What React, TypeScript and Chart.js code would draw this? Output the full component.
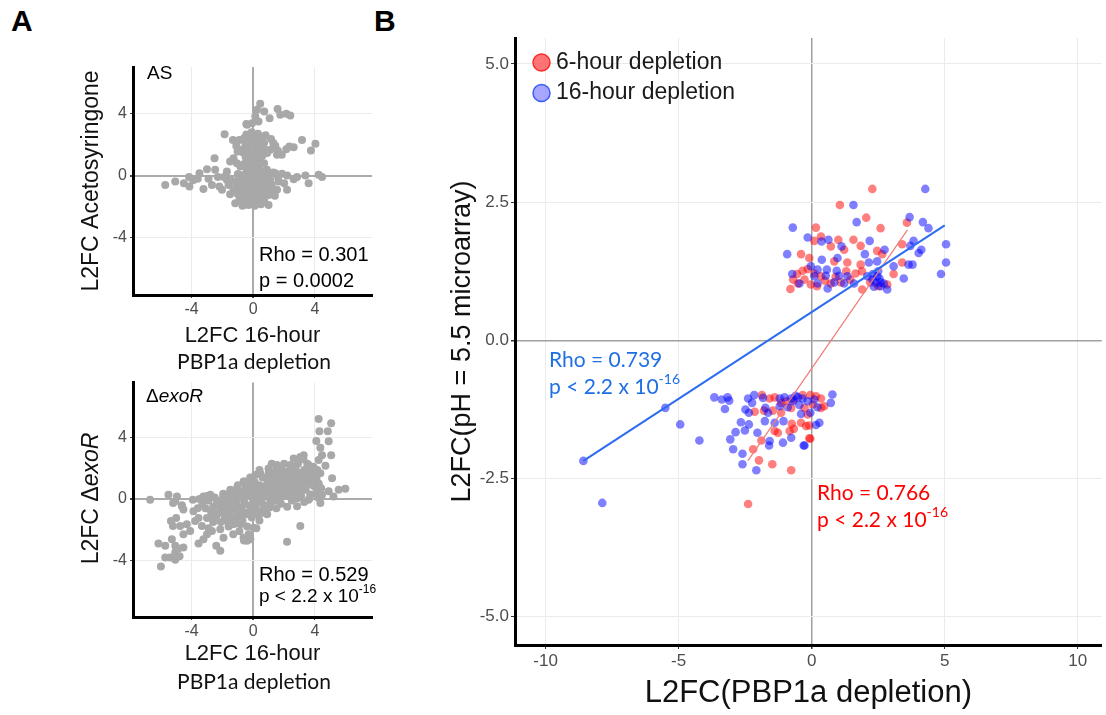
import React, { useEffect, useRef } from 'react';
import { Chart, registerables } from 'chart.js';

Chart.register(...registerables);

const FONT = "Arial, 'Liberation Sans', Helvetica, sans-serif";
const CAL = "Lato, 'Open Sans', sans-serif";

// ---------- tick values ----------
const aTicks = [-4, 0, 4];
const bXTicks = [-10, -5, 0, 5, 10];
const bYTicks = [-5, -2.5, 0, 2.5, 5];

// ---------- Panel A (top): Acetosyringone vs 16-hour PBP1a depletion ----------
const asPoints: [number, number][] = [
  [0.45, 4.63], [0.24, 4.24], [0.13, 3.81], [0.71, 4.13], [1.58, 4.3], [1.75, 3.92], [2.14, 3.98], [2.4, 3.87],
  [1.06, 3.7], [-0.08, 3.38], [-0.45, 3.32], [0.34, 3.48], [-0.4, 3.27], [-1.86, 2.67], [-1.32, 2.3], [-0.3, 2.3],
  [0.02, 2.63], [0.45, 2.52], [1.15, 2.35], [3.16, 2.3], [4.03, 2.05], [3.74, 1.61], [2.62, 1.83], [2.14, 1.7],
  [2.34, 1.87], [1.43, 1.92], [-0.37, 2.09], [-0.84, 1.66], [-1.02, 1.55], [-0.52, 1.77], [0.24, 1.87], [0.67, 1.77],
  [1.1, 1.66], [1.54, 1.34], [-0.3, 1.34], [0.02, 1.23], [0.45, 1.01], [-2.51, 1.12], [-1.28, 1.12], [-1.06, 0.8],
  [-0.84, 0.58], [-3.0, 0.41], [-2.47, 0.37], [-3.49, 0.15], [-1.71, 0.26], [-0.41, 0.37], [0.24, 0.26], [0.89, 0.37],
  [1.43, 0.15], [1.86, 0.11], [-4.16, -0.1], [-5.71, -0.6], [-5.06, -0.39], [-4.14, -0.71], [-3.23, -0.86], [-2.68, -0.6],
  [-2.03, -0.92], [-1.71, -0.28], [-0.95, -0.17], [-0.63, -0.49], [-0.19, -0.17], [0.24, -0.28], [0.67, -0.06], [1.1, -0.28],
  [1.64, -0.39], [2.19, -0.92], [2.62, -0.23], [3.38, 0.0], [3.59, -0.49], [4.24, 0.05], [4.46, -0.1], [2.84, -0.1],
  [1.54, -0.92], [-1.28, -0.92], [-1.17, -1.78], [-0.63, -1.89], [0.02, -1.57], [0.45, -1.35], [-0.41, -1.35], [-0.84, -1.14],
  [-0.19, -0.92], [0.24, -0.81], [0.99, -1.89], [0.89, -0.92], [-0.41, -0.71],
  [-0.6, 2.4], [-0.2, 2.5], [0.2, 2.4], [0.6, 2.3], [-0.5, 2.0], [-0.1, 2.1], [0.3, 2.0], [0.7, 2.1], [-0.7, 1.5],
  [-0.3, 1.6], [0.1, 1.5], [0.5, 1.55], [0.9, 1.45], [-0.2, 1.1], [0.2, 1.2], [-0.5, 1.2], [0.6, 1.3], [0.3, 2.7],
  [-0.1, 2.8], [0.8, 2.6], [1.3, 2.1], [1.6, 1.6], [-1.1, 1.9], [-0.9, 2.3], [0.0, 0.8], [-0.3, 0.7], [0.3, 0.6],
  [0.15, 0.95], [-1.2, -0.4], [-0.8, -0.5], [-0.4, -0.3], [0.0, -0.4], [0.4, -0.45], [0.8, -0.5], [1.2, -0.6],
  [-1.0, 0.1], [-0.6, 0.05], [-0.2, 0.1], [0.2, 0.0], [0.6, 0.15], [1.0, 0.05], [1.3, 0.2], [-0.4, 0.45], [0.0, 0.45],
  [0.4, 0.5], [-1.1, -0.8], [-0.7, -0.85], [-0.3, -0.9], [0.1, -0.8], [0.5, -0.85], [1.2, -0.9], [-1.0, -1.2],
  [-0.6, -1.25], [-0.2, -1.2], [0.2, -1.15], [0.6, -1.2], [1.0, -1.25], [-0.9, -1.6], [-0.5, -1.65], [-0.1, -1.6],
  [0.3, -1.65], [0.7, -1.55], [-0.7, -1.95], [-0.3, -1.9], [0.1, -1.95], [0.5, -1.85], [-1.5, -0.2], [-1.6, -0.6],
  [1.6, -0.1], [2.0, -0.5], [-1.5, -1.2], [1.4, -1.3], [-1.9, -0.1], [2.2, 0.0], [-3.9, -0.3], [-4.5, -0.5],
  [-3.6, -0.2], [-2.3, -0.1], [-2.9, -0.2], [-2.2, -0.7],
  [-0.45, 2.65], [0.05, 2.35], [0.45, 2.15], [-0.35, 1.9], [0.15, 1.75], [0.55, 1.85], [-0.15, 1.4], [0.35, 1.35],
  [-0.55, 1.45], [0.75, 1.6], [-0.1, 0.6], [0.1, 0.3], [-0.25, -0.6], [0.35, -0.6], [-0.45, -1.05], [0.45, -1.05],
  [-0.05, -1.4], [0.2, -0.2], [-0.85, -0.25], [0.95, -0.15], [-0.6, 0.75], [0.7, 0.8], [1.85, 1.35], [-1.5, 0.9],
];

// ---------- Panel A (bottom): exoR vs 16-hour PBP1a depletion ----------
const exoRPoints: [number, number][] = [
  [-6.69, -0.04], [-5.5, 0.28], [-4.95, 0.17], [-5.06, -0.15], [-4.63, -0.47], [-4.53, -0.68], [-3.92, -0.04], [-3.88, -0.79],
  [-5.0, -1.23], [-5.34, -1.44], [-5.21, -1.76], [-4.74, -1.76], [-4.31, -1.65], [-3.77, -1.44], [-3.55, -1.23], [-3.33, -1.76],
  [-4.09, -2.08], [-4.53, -2.3], [-5.28, -2.62], [-6.15, -2.9], [-5.71, -3.05], [-5.06, -3.05], [-4.85, -3.23], [-4.53, -3.16],
  [-5.06, -3.48], [-5.71, -3.81], [-5.39, -3.81], [-5.06, -3.97], [-4.78, -3.74], [-5.99, -4.41], [-3.55, -2.9], [-3.23, -2.62],
  [-3.0, -2.3], [-2.68, -2.08], [-2.14, -3.37], [-2.4, -3.05], [-3.0, -1.23], [-2.68, -0.79], [-2.25, -0.15], [-3.23, 0.17],
  [-2.79, 0.28], [-1.93, 0.28], [-1.49, 0.61], [-1.06, 0.71], [-0.63, 1.14], [-1.93, -0.79], [-1.71, -1.44], [-1.28, -1.65],
  [-0.84, -1.65], [-2.14, -1.97], [-1.93, -2.52], [-0.63, -2.52], [-0.41, -2.73], [-5.2, -0.26], [-4.63, -0.41],
  [4.24, 5.23], [5.05, 4.95], [4.29, 4.43], [4.83, 4.43], [4.09, 3.79], [4.35, 3.34], [4.89, 3.77], [5.05, 2.86],
  [4.46, 2.86], [3.27, 2.86], [3.05, 2.75], [2.62, 2.65], [4.24, 2.54], [3.59, 2.22], [4.68, 2.17], [4.35, 1.68],
  [5.11, 1.35], [5.54, 0.61], [5.97, 0.67], [4.89, 0.5], [4.46, 0.28], [4.35, -0.26], [3.59, -0.04], [3.05, -1.76],
  [2.19, -2.79], [2.84, -0.47], [2.4, 2.22], [1.54, 2.22], [0.99, 2.0], [0.45, 1.68], [0.13, 1.57], [-0.52, 1.14],
  [-0.63, 0.5], [0.45, -0.79], [0.02, -1.87], [-0.19, -2.62], [5.2, 0.17],
  [-3.1, -0.6], [-2.9, -0.1], [-2.6, -0.5], [-2.5, 0.1], [-2.4, -1.1], [-2.2, -0.4], [-2.1, -1.5], [-2.0, 0.0],
  [-1.9, -1.0], [-1.8, -0.5], [-1.7, 0.3], [-1.6, -1.8], [-1.5, -0.2], [-1.4, -1.2], [-1.3, -0.7], [-1.2, 0.2],
  [-1.1, -0.3], [-1.0, -1.0], [-0.9, -2.1], [-0.9, 0.4], [-0.8, -0.6], [-0.7, -1.4], [-0.6, -0.1], [-0.5, 0.8],
  [-0.5, -0.9], [-0.4, -1.8], [-0.3, 0.3], [-0.2, -0.4], [-0.1, -1.2], [0.0, 0.6], [0.0, -0.1], [0.1, 1.1],
  [0.2, -0.7], [0.3, 0.3], [0.4, -1.4], [0.4, 0.9], [0.5, -0.2], [0.6, 1.4], [0.7, 0.4], [0.8, -0.6], [0.9, 1.0],
  [1.0, 0.1], [1.0, 1.7], [1.1, -0.3], [1.2, 0.6], [1.3, 1.3], [1.4, -0.1], [1.5, 2.0], [1.5, 0.9], [1.6, 0.3],
  [1.7, 1.5], [1.8, -0.3], [1.9, 0.8], [2.0, 2.3], [2.0, 1.2], [2.1, 0.2], [2.2, 1.8], [2.3, 0.6], [2.4, 1.4],
  [2.5, -0.1], [2.5, 2.0], [2.6, 1.0], [2.7, 0.4], [2.8, 1.7], [2.9, 2.3], [3.0, 0.9], [3.1, 0.2], [3.2, 1.4],
  [3.3, 1.9], [3.4, 0.6], [3.5, 2.3], [3.6, 1.1], [3.7, 0.3], [3.8, 1.7], [3.9, 2.1], [4.0, 0.8], [4.1, 1.3],
  [4.2, 0.1], [3.3, -0.2], [2.2, -0.5], [-0.3, -2.3], [0.2, -1.9], [-1.3, -2.3], [-1.6, -1.0], [-2.6, -1.5],
  [-2.9, -1.9], [-3.3, -0.3], [-3.5, 0.0], [-3.0, 0.2], [-1.0, 0.9], [-0.2, 1.4], [0.4, 1.9], [1.2, 2.3],
  [0.9, -1.0], [1.5, -0.6], [-0.6, -2.7],
  [-2.75, -0.8], [-2.35, -0.2], [-2.25, -0.9], [-1.95, 0.35], [-1.85, -1.3], [-1.55, -0.6], [-1.45, 0.5], [-1.25, -1.6],
  [-1.15, -0.1], [-0.95, -0.5], [-0.85, -1.25], [-0.75, 0.1], [-0.55, -0.35], [-0.45, 0.3], [-0.35, -1.0], [-0.25, 0.95],
  [-0.15, -0.6], [0.05, 0.25], [0.15, -0.35], [0.25, 0.75], [0.35, -1.05], [0.55, 0.1], [0.65, -0.35], [0.75, 0.8],
  [0.85, 1.4], [0.95, 0.45], [1.05, -0.55], [1.15, 1.0], [1.25, 0.25], [1.35, 1.7], [1.45, 0.6], [1.65, 1.15],
  [1.75, 0.05], [1.85, 1.9], [1.95, 0.5], [2.15, 1.5], [2.25, 0.95], [2.35, 0.2], [2.45, 1.75], [2.55, 0.7],
  [2.65, 1.3], [2.75, 2.1], [2.85, 0.05], [2.95, 1.2], [3.05, 1.7], [3.15, 0.55], [3.25, 2.6], [3.45, 1.0],
  [3.55, 1.6], [3.65, 0.05], [3.75, 2.05], [3.85, 0.9], [3.95, 1.5], [4.05, 0.35], [4.15, 1.9], [4.25, 1.0],
  [-2.55, -1.2], [-2.05, -0.7], [-1.75, -0.15], [-1.35, 0.15], [-1.05, -0.75], [-0.65, -1.05], [-0.35, 0.6], [0.1, -0.95],
  [0.45, 0.55], [0.8, 0.2], [1.1, 0.75], [1.55, 0.1], [1.9, 1.1], [2.3, 1.25], [2.6, 1.6], [3.0, 0.55], [3.35, 1.25],
  [3.7, 1.4], [4.4, 0.7], [-3.6, -0.6], [-1.2, -1.3], [-0.1, 0.95], [0.6, -0.9], [1.7, 0.7], [2.8, 0.8],
];

// ---------- Panel B: pH 5.5 microarray vs PBP1a depletion ----------
const sixHourPoints: [number, number][] = [
  [2.28, 2.74], [1.06, 2.45], [2.05, 2.22], [3.58, 2.13], [0.16, 2.04], [2.59, 2.03], [0.35, 1.88], [0.1, 1.8],
  [1.0, 1.82], [0.72, 1.7], [1.57, 1.82], [1.84, 1.71], [1.22, 1.64], [-0.4, 1.56], [-0.09, 1.49], [2.46, 1.62],
  [2.65, 1.56], [3.4, 1.74], [3.4, 1.41], [1.34, 1.41], [1.84, 1.37], [0.85, 1.43], [-0.34, 1.26], [-0.55, 1.2],
  [-0.15, 1.29], [0.1, 1.21], [0.35, 1.16], [1.65, 1.21], [1.89, 1.25], [3.08, 1.2], [-0.8, 0.93], [-0.03, 1.01],
  [0.72, 1.03], [2.84, 1.01], [1.9, 0.92], [-0.52, 1.03], [-0.27, 1.1], [0.5, 1.08], [0.9, 1.15], [1.1, 1.05],
  [1.45, 1.1], [2.2, 1.05], [2.5, 0.98], [0.2, 0.98], [1.3, 1.25], [-0.7, 1.1],
  [-1.87, -0.99], [-1.58, -1.05], [-1.39, -1.03], [-2.14, -1.29], [-1.79, -1.27], [-1.46, -1.27], [-1.15, -1.31],
  [-1.39, -1.64], [-1.27, -1.67], [-0.75, -1.51], [-0.83, -1.64], [-0.67, -1.6], [-0.09, -1.54], [-0.4, -1.49],
  [-1.89, -1.81], [-2.2, -1.97], [-1.98, -2.17], [-1.48, -2.24], [-0.77, -2.35], [-0.05, -1.78], [-0.67, -1.07],
  [-0.34, -0.99], [-0.05, -0.99], [0.16, -1.01], [0.35, -1.05], [0.04, -1.16], [-0.27, -1.22], [-0.96, -1.1],
  [0.35, -1.22], [-0.15, -1.34], [-1.15, -1.13], [-0.77, -1.22], [0.47, -1.19], [-0.09, -1.77], [-0.21, -1.55],
  [-2.39, -2.96],
];

const sixteenHourPoints: [number, number][] = [
  [4.27, 2.74], [1.57, 2.45], [1.69, 2.14], [3.68, 2.23], [4.18, 2.14], [4.39, 2.03], [-0.71, 2.04], [-0.15, 1.86],
  [0.63, 1.82], [0.37, 1.79], [2.18, 1.8], [1.12, 1.7], [-0.92, 1.56], [0.38, 1.46], [0.97, 1.49], [2.0, 1.56],
  [2.74, 1.64], [3.83, 1.8], [3.71, 1.71], [4.02, 1.58], [4.12, 1.64], [5.05, 1.74], [5.05, 1.41], [4.86, 1.2],
  [3.79, 1.37], [3.64, 1.37], [3.08, 1.34], [3.46, 1.12], [-0.03, 1.34], [0.22, 1.28], [0.57, 1.28], [0.94, 1.26],
  [2.15, 1.41], [2.46, 1.43], [-0.73, 1.2], [-0.46, 1.03], [0.1, 1.16], [0.53, 1.17], [1.03, 1.17], [1.34, 1.16],
  [1.59, 1.03], [2.09, 1.16], [2.28, 1.1], [2.46, 1.16], [2.59, 1.05], [2.71, 1.03], [2.34, 0.97], [0.85, 1.05],
  [1.22, 1.03], [0.6, 0.94], [0.22, 1.03], [2.84, 0.92], [2.4, 1.05], [2.55, 1.12], [2.3, 1.2], [2.6, 0.98], [2.5, 1.25],
  [-5.5, -1.22], [-4.94, -1.52], [-4.22, -1.81], [-3.66, -1.03], [-3.38, -1.07], [-3.16, -1.03], [-3.1, -1.09],
  [-3.26, -1.24], [-2.39, -1.05], [-2.16, -0.99], [-2.24, -1.13], [-2.49, -1.25], [-2.36, -1.31], [-1.83, -1.04],
  [-2.66, -1.48], [-2.36, -1.52], [-2.86, -1.66], [-2.51, -1.63], [-2.04, -1.67], [-3.06, -1.79], [-2.95, -1.97],
  [-2.6, -2.05], [-2.6, -2.24], [-2.08, -2.35], [-1.76, -1.46], [-1.58, -1.82], [-1.6, -1.9], [-1.08, -1.85],
  [-0.77, -1.76], [-0.3, -1.9], [-1.2, -1.05], [-1.02, -1.03], [-0.77, -1.05], [-0.52, -1.03], [-0.34, -1.05],
  [-0.15, -1.1], [-1.2, -1.19], [-0.9, -1.21], [-0.46, -1.17], [-0.05, -1.31], [-0.4, -1.33], [0.29, -1.49],
  [0.16, -1.53], [-1.06, -1.46], [-1.39, -1.49], [-1.74, -1.22], [-1.64, -1.31], [0.22, -1.21], [0.1, -1.07],
  [0.78, -0.98], [0.72, -1.13], [-0.27, -1.9], [-8.58, -2.18], [-7.87, -2.94], [-0.6, -1.0], [-0.7, -1.1],
];

const sixHourFit: [number, number][] = [[-2.4, -2.18], [3.6, 2.0]];
const sixteenHourFit: [number, number][] = [[-8.58, -2.18], [5.0, 2.08]];

// ---------- helpers ----------
type Seg = { t: string; font: string; color?: string; dy?: number };
type TextItem = { x: number; y: number; segs: Seg[]; align?: 'left' | 'center'; rot?: number };

function drawRich(ctx: CanvasRenderingContext2D, item: TextItem) {
  ctx.save();
  ctx.translate(item.x, item.y);
  if (item.rot) ctx.rotate(item.rot);
  ctx.textBaseline = 'middle';
  ctx.textAlign = 'left';
  let total = 0;
  const widths = item.segs.map((s) => {
    ctx.font = s.font;
    const w = ctx.measureText(s.t).width;
    total += w;
    return w;
  });
  let cx = item.align === 'center' ? -total / 2 : 0;
  item.segs.forEach((s, i) => {
    ctx.font = s.font;
    ctx.fillStyle = s.color || '#000';
    ctx.fillText(s.t, cx, s.dy || 0);
    cx += widths[i];
  });
  ctx.restore();
}

const textPlugin = (items: TextItem[]) => ({
  id: 'richText',
  afterDraw(chart: any) {
    const ctx = chart.ctx as CanvasRenderingContext2D;
    items.forEach((it) => drawRich(ctx, it));
  },
});

const toXY = (pts: [number, number][]) => pts.map(([x, y]) => ({ x, y }));
const isZero = (c: any) => c.tick && c.tick.value === 0;

function panelA(points: [number, number][], yMax: number, padTop: number, xHeight: number, xTitlePad: number,
  yTitle: string | null, texts: TextItem[]) {
  return {
    type: 'scatter',
    data: {
      datasets: [{
        label: 'genes',
        data: toXY(points),
        backgroundColor: '#a8a8a8',
        borderWidth: 0,
        pointRadius: 4,
        pointHoverRadius: 4,
      }],
    },
    options: {
      responsive: false,
      animation: false,
      events: [],
      layout: { padding: { top: padTop, right: 8, left: 0, bottom: 0 } },
      plugins: { legend: { display: false }, tooltip: { enabled: false } },
      scales: {
        x: {
          type: 'linear', min: -7.8, max: 7.7,
          afterBuildTicks: (s: any) => { s.ticks = aTicks.map((v) => ({ value: v })); },
          afterFit: (s: any) => { s.height = xHeight; },
          grid: {
            color: (c: any) => (isZero(c) ? '#ababab' : '#ebebeb'),
            lineWidth: (c: any) => (isZero(c) ? 2 : 1),
            tickLength: 3, tickColor: '#444',
          },
          border: { display: true, color: '#000', width: 3 },
          ticks: { color: '#4d4d4d', font: { family: FONT, size: 16 }, padding: 2, autoSkip: false, maxRotation: 0,
            callback: (v: any) => String(v) },
          title: { display: true, text: 'L2FC 16-hour', color: '#111', font: { family: FONT, size: 22 },
            padding: { top: 0, bottom: xTitlePad } },
        },
        y: {
          type: 'linear', min: -7.7, max: yMax,
          afterBuildTicks: (s: any) => { s.ticks = aTicks.map((v) => ({ value: v })); },
          afterFit: (s: any) => { s.width = 133; },
          grid: {
            color: (c: any) => (isZero(c) ? '#ababab' : '#ebebeb'),
            lineWidth: (c: any) => (isZero(c) ? 2 : 1),
            tickLength: 3, tickColor: '#444',
          },
          border: { display: true, color: '#000', width: 3 },
          ticks: { color: '#4d4d4d', font: { family: FONT, size: 16 }, padding: 3, autoSkip: false,
            callback: (v: any) => String(v) },
          title: { display: !!yTitle, text: yTitle || '', color: '#111', font: { family: FONT, size: 23 },
            padding: { top: 78, bottom: 0 } },
        },
      },
    },
    plugins: [textPlugin(texts)],
  };
}

const A1_TEXTS: TextItem[] = [
  { x: 147, y: 24, segs: [{ t: 'AS', font: `19px ${FONT}` }] },
  { x: 259, y: 205, segs: [{ t: 'Rho = 0.301', font: `20px ${FONT}` }] },
  { x: 259, y: 231, segs: [{ t: 'p = 0.0002', font: `20px ${FONT}` }] },
  { x: 254, y: 312, align: 'center', segs: [{ t: 'PBP1a depletion', font: `21px ${CAL}`, color: '#111' }] },
];

const A2_TEXTS: TextItem[] = [
  { x: 146, y: 27, segs: [{ t: 'Δ', font: `19px ${FONT}` }, { t: 'exoR', font: `italic 19px ${FONT}` }] },
  { x: 259, y: 205, segs: [{ t: 'Rho = 0.529', font: `20px ${FONT}` }] },
  { x: 259, y: 227, segs: [{ t: 'p < 2.2 x 10', font: `19px ${FONT}` }, { t: '-16', font: `12px ${FONT}`, dy: -7 }] },
  { x: 254, y: 312, align: 'center', segs: [{ t: 'PBP1a depletion', font: `21px ${CAL}`, color: '#111' }] },
  { x: 92, y: 128.5, align: 'center', rot: -Math.PI / 2,
    segs: [{ t: 'L2FC Δ', font: `23px ${FONT}`, color: '#111' }, { t: 'exoR', font: `italic 23px ${FONT}`, color: '#111' }] },
];

const RED_FILL = 'rgba(255, 0, 0, 0.5)';
const BLUE_FILL = 'rgba(0, 0, 255, 0.5)';

const B_TEXTS: TextItem[] = [
  { x: 169, y: 360, segs: [{ t: 'Rho = 0.739', font: `21px ${CAL}`, color: '#1f6fe5' }] },
  { x: 169, y: 387, segs: [{ t: 'p < 2.2 x 10', font: `21px ${CAL}`, color: '#1f6fe5' },
    { t: '-16', font: `14px ${CAL}`, color: '#1f6fe5', dy: -8 }] },
  { x: 437, y: 493, segs: [{ t: 'Rho = 0.766', font: `21px ${CAL}`, color: '#ff0000' }] },
  { x: 437, y: 520, segs: [{ t: 'p < 2.2 x 10', font: `21px ${CAL}`, color: '#ff0000' },
    { t: '-16', font: `14px ${CAL}`, color: '#ff0000', dy: -8 }] },
];

const bLegendPlugin = {
  id: 'bLegend',
  afterDraw(chart: any) {
    const ctx = chart.ctx as CanvasRenderingContext2D;
    const items = [
      { ds: chart.data.datasets[3], fill: 'rgba(255, 70, 70, 0.75)', stroke: '#ff2a2a', y: 62.5 },
      { ds: chart.data.datasets[2], fill: 'rgba(120, 120, 255, 0.65)', stroke: '#3a5cff', y: 93 },
    ];
    items.forEach((it) => {
      ctx.save();
      ctx.beginPath();
      ctx.arc(161.5, it.y, 8.5, 0, Math.PI * 2);
      ctx.fillStyle = it.fill;
      ctx.fill();
      ctx.lineWidth = 1.5;
      ctx.strokeStyle = it.stroke;
      ctx.stroke();
      ctx.font = `23px ${FONT}`;
      ctx.fillStyle = '#1a1a1a';
      ctx.textBaseline = 'middle';
      ctx.fillText(it.ds.label, 176, it.y);
      ctx.restore();
    });
  },
};

function panelB() {
  return {
    type: 'scatter',
    data: {
      datasets: [
        { label: '16-hour fit', data: toXY(sixteenHourFit), showLine: true, borderColor: '#2b6cf0', borderWidth: 2,
          pointRadius: 0, fill: false },
        { label: '6-hour fit', data: toXY(sixHourFit), showLine: true, borderColor: '#f07a7a', borderWidth: 1.2,
          pointRadius: 0, fill: false },
        { label: '16-hour depletion', data: toXY(sixteenHourPoints), backgroundColor: BLUE_FILL, borderWidth: 0,
          pointRadius: 4.3, pointHoverRadius: 4.3 },
        { label: '6-hour depletion', data: toXY(sixHourPoints), backgroundColor: RED_FILL, borderWidth: 0,
          pointRadius: 4.3, pointHoverRadius: 4.3 },
      ],
    },
    options: {
      responsive: false,
      animation: false,
      events: [],
      layout: { padding: { top: 38, right: 0, left: 0, bottom: 0 } },
      plugins: { legend: { display: false }, tooltip: { enabled: false } },
      scales: {
        x: {
          type: 'linear', min: -11.15, max: 10.9,
          afterBuildTicks: (s: any) => { s.ticks = bXTicks.map((v) => ({ value: v })); },
          afterFit: (s: any) => { s.height = 70; },
          grid: {
            color: (c: any) => (isZero(c) ? '#a0a0a0' : '#ebebeb'),
            lineWidth: (c: any) => (isZero(c) ? 1.5 : 1),
            tickLength: 4, tickColor: '#333',
          },
          border: { display: true, color: '#000', width: 3 },
          ticks: { color: '#4d4d4d', font: { family: FONT, size: 17 }, padding: 2, autoSkip: false, maxRotation: 0,
            callback: (v: any) => String(v) },
          title: { display: true, text: 'L2FC(PBP1a depletion)', color: '#111', font: { family: FONT, size: 31 },
            padding: { top: 0, bottom: 3 } },
        },
        y: {
          type: 'linear', min: -5.51, max: 5.47,
          afterBuildTicks: (s: any) => { s.ticks = bYTicks.map((v) => ({ value: v })); },
          afterFit: (s: any) => { s.width = 135; },
          grid: {
            color: (c: any) => (isZero(c) ? '#a0a0a0' : '#ebebeb'),
            lineWidth: (c: any) => (isZero(c) ? 1.5 : 1),
            tickLength: 4, tickColor: '#333',
          },
          border: { display: true, color: '#000', width: 3 },
          ticks: { color: '#4d4d4d', font: { family: FONT, size: 17 }, padding: 2, autoSkip: false,
            callback: (v: any) => Number(v).toFixed(1) },
          title: { display: true, text: 'L2FC(pH = 5.5 microarray)', color: '#111', font: { family: FONT, size: 27 },
            padding: { top: 66, bottom: 0 } },
        },
      },
    },
    plugins: [textPlugin(B_TEXTS), bLegendPlugin],
  };
}

function ChartCanvas(props: { left: number; top: number; width: number; height: number; make: () => any }) {
  const ref = useRef<HTMLCanvasElement>(null);
  useEffect(() => {
    const chart = new Chart(ref.current as HTMLCanvasElement, props.make());
    return () => chart.destroy();
  }, []);
  const { left, top, width, height } = props;
  return (
    <canvas ref={ref} width={width} height={height}
      style={{ position: 'absolute', left, top, width, height, display: 'block' }} />
  );
}

const panelLabel: React.CSSProperties = {
  position: 'absolute', fontFamily: FONT, fontWeight: 'bold', fontSize: 30, lineHeight: '30px', color: '#000',
};

export default function App() {
  return (
    <div style={{ position: 'absolute', left: 0, top: 0, width: 1106, height: 715, background: '#fff', overflow: 'hidden' }}>
      <div style={{ ...panelLabel, left: 11, top: 6 }}>A</div>
      <div style={{ ...panelLabel, left: 374, top: 6 }}>B</div>
      <ChartCanvas left={0} top={50} width={380} height={330}
        make={() => panelA(asPoints, 7.0, 17, 85, 31, 'L2FC Acetosyringone', A1_TEXTS)} />
      <ChartCanvas left={0} top={370} width={380} height={331}
        make={() => panelA(exoRPoints, 7.6, 10, 84, 34, null, A2_TEXTS)} />
      <ChartCanvas left={380} top={0} width={726} height={715} make={panelB} />
    </div>
  );
}
